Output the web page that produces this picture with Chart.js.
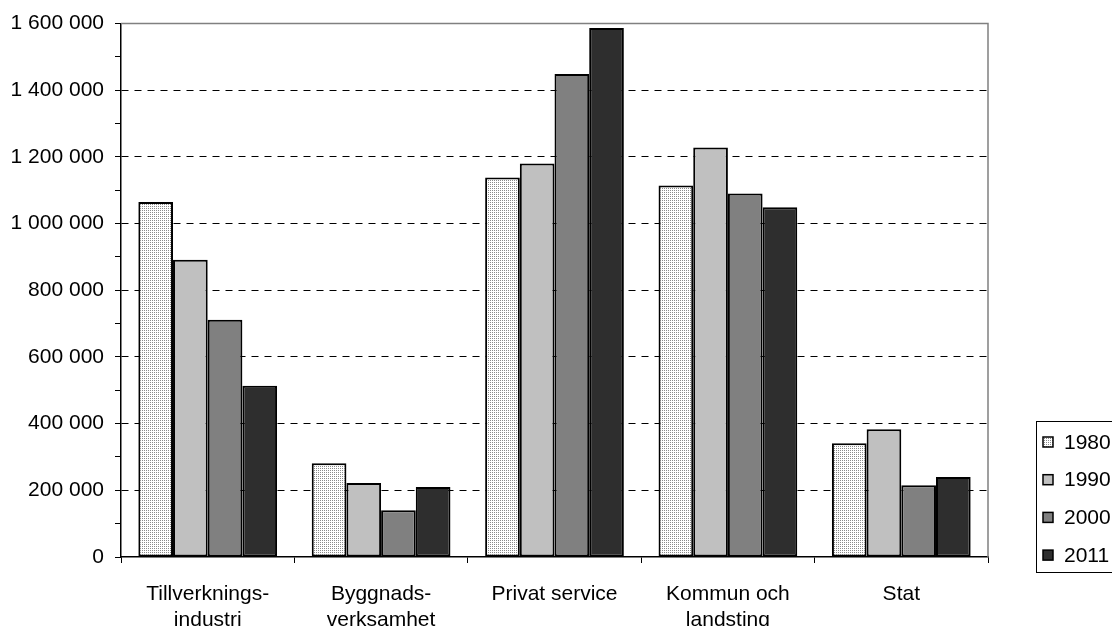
<!DOCTYPE html>
<html>
<head>
<meta charset="utf-8">
<script src="https://cdn.jsdelivr.net/npm/chart.js@4.4.0/dist/chart.umd.min.js"></script>
<style>
    html, body { margin: 0; padding: 0; background: #fff; }
    #wrap { width: 1112px; height: 626px; }
</style>
</head>
<body>
<div id="wrap"><canvas id="chart" width="1112" height="626"></canvas></div>
<script>
// Data
const categories = [['Tillverknings-', 'industri'], ['Byggnads-', 'verksamhet'], 'Privat service', ['Kommun och', 'landsting'], 'Stat'];
const years = ['1980', '1990', '2000', '2011'];
const values1980 = [1065000, 281000, 1138000, 1114000, 341000];
const values1990 = [892000, 222000, 1180000, 1228000, 383000];
const values2000 = [712000, 140000, 1449000, 1090000, 215000];
const values2011 = [514000, 210000, 1587000, 1049000, 240000];
const yTicks = [0, 200000, 400000, 600000, 800000, 1000000, 1200000, 1400000, 1600000];

const FONT = '"Liberation Sans", Arial, sans-serif';

// dotted fill for 1980
function makeDots() {
    const c = document.createElement('canvas');
    c.width = 2;
    c.height = 2;
    const g = c.getContext('2d');
    g.fillStyle = '#ffffff';
    g.fillRect(0, 0, 2, 2);
    g.fillStyle = '#8a8a8a';
    g.fillRect(0, 0, 1, 1);
    return g.createPattern(c, 'repeat');
}

const fills = [makeDots(), '#c0c0c0', '#808080', '#2e2e2e'];
const series = [values1980, values1990, values2000, values2011];

function fmt(v) {
    return String(v).replace(/\B(?=(\d{3})+(?!\d))/g, ' ');
}

// gray frame on top/right of the plot area
const framePlugin = {
    id: 'frame',
    beforeDatasetsDraw(chart) {
        const { ctx, chartArea: a } = chart;
        ctx.save();
        ctx.strokeStyle = '#808080';
        ctx.lineWidth = 1.5;
        ctx.beginPath();
        ctx.moveTo(a.left, a.top);
        ctx.lineTo(a.right, a.top);
        ctx.lineTo(a.right, a.bottom);
        ctx.stroke();
        ctx.restore();
    }
};

// legend box at the lower right
const legendPlugin = {
    id: 'boxLegend',
    afterDraw(chart) {
        const ctx = chart.ctx;
        ctx.save();
        ctx.strokeStyle = '#000';
        ctx.lineWidth = 1;
        ctx.strokeRect(1036.5, 421.5, 100, 151);
        ctx.font = '21px ' + FONT;
        ctx.textBaseline = 'middle';
        chart.data.datasets.forEach((ds, i) => {
            const y = 442 + i * 37.7;
            ctx.fillStyle = ds.backgroundColor;
            ctx.fillRect(1043, y - 5, 10, 10);
            ctx.strokeStyle = '#000';
            ctx.lineWidth = 1.5;
            ctx.strokeRect(1043, y - 5, 10, 10);
            ctx.fillStyle = '#000';
            ctx.fillText(ds.label, 1064, y + 1);
        });
        ctx.restore();
    }
};

new Chart(document.getElementById('chart'), {
    type: 'bar',
    data: {
        labels: categories,
        datasets: years.map((y, i) => ({
            label: y,
            data: series[i],
            backgroundColor: fills[i],
            borderColor: '#000',
            borderWidth: 2,
            borderSkipped: false,
            categoryPercentage: 0.8,
            barPercentage: 1.0
        }))
    },
    options: {
        responsive: false,
        animation: false,
        devicePixelRatio: 1,
        layout: { padding: { top: 23, right: 124, left: 0, bottom: 0 } },
        plugins: {
            legend: { display: false },
            tooltip: { enabled: false }
        },
        scales: {
            x: {
                afterFit(scale) { scale.height = 69; },
                grid: {
                    offset: true,
                    drawOnChartArea: false,
                    tickLength: 6,
                    tickColor: '#000',
                    tickWidth: 1
                },
                border: { color: '#000', width: 1.5 },
                ticks: {
                    color: '#000',
                    padding: 19,
                    maxRotation: 0,
                    autoSkip: false,
                    font: { family: FONT, size: 21, lineHeight: 1.2 }
                }
            },
            y: {
                min: 0,
                max: 1600000,
                afterFit(scale) { scale.width = 121; },
                ticks: {
                    stepSize: 100000,
                    autoSkip: false,
                    color: '#000',
                    padding: 11,
                    font: { family: FONT, size: 21 },
                    callback: v => yTicks.includes(v) ? fmt(v) : ''
                },
                grid: {
                    tickLength: 6,
                    tickColor: '#000',
                    tickWidth: 1,
                    lineWidth: 1,
                    color: ctx => {
                        const v = ctx.tick ? ctx.tick.value : 0;
                        return (v > 0 && v < 1600000 && v % 200000 === 0) ? '#000' : 'rgba(0,0,0,0)';
                    }
                },
                border: { color: '#000', width: 1.5, dash: [7, 6] }
            }
        }
    },
    plugins: [framePlugin, legendPlugin]
});
</script>
</body>
</html>
